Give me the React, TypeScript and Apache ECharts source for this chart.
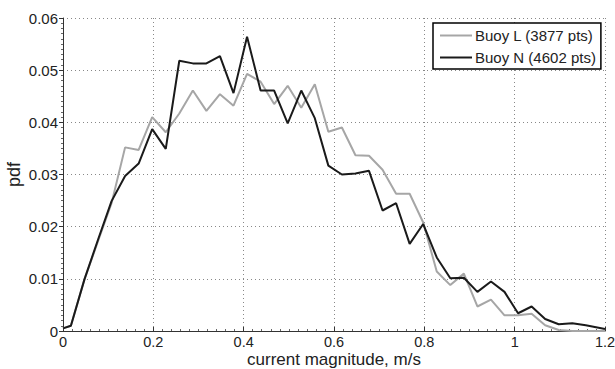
import React, { useEffect, useRef } from "react";
import * as echarts from "echarts";

const xValues = [
  0, 0.0175, 0.0475, 0.0775, 0.1075, 0.1375, 0.1675, 0.1975, 0.2275, 0.2575,
  0.2875, 0.3175, 0.3475, 0.3775, 0.4075, 0.4375, 0.4675, 0.4975, 0.5275,
  0.5575, 0.5875, 0.6175, 0.6475, 0.6775, 0.7075, 0.7375, 0.7675, 0.7975,
  0.8275, 0.8575, 0.8875, 0.9175, 0.9475, 0.9775, 1.0075, 1.0375, 1.0675,
  1.0975, 1.1275, 1.1575, 1.2,
];

const buoyL = [
  0.0005, 0.001, 0.0099, 0.0172, 0.0245, 0.0352, 0.0347, 0.041, 0.0381, 0.0417,
  0.0461, 0.0422, 0.0454, 0.0432, 0.0493, 0.0478, 0.0435, 0.047, 0.0428,
  0.0473, 0.0382, 0.039, 0.0337, 0.0336, 0.0309, 0.0263, 0.0263, 0.0208,
  0.0114, 0.0088, 0.011, 0.0047, 0.006, 0.003, 0.003, 0.0033, 0.0011, 0.0002,
  0, 0, 0,
];

const buoyN = [
  0.0005, 0.001, 0.0099, 0.0175, 0.0249, 0.0297, 0.0321, 0.0387, 0.0349,
  0.0518, 0.0513, 0.0513, 0.0527, 0.0456, 0.0564, 0.0461, 0.0461, 0.0398,
  0.0461, 0.0408, 0.0317, 0.03, 0.0302, 0.0307, 0.0231, 0.0245, 0.0167,
  0.0205, 0.0141, 0.0101, 0.0102, 0.0075, 0.0095, 0.0075, 0.0034, 0.0047,
  0.0023, 0.0013, 0.0015, 0.0011, 0.0004,
];

const seriesNames = ["Buoy L (3877 pts)", "Buoy N (4602 pts)"];
const xTickLabels = ["0", "0.2", "0.4", "0.6", "0.8", "1", "1.2"];
const yTickLabels = ["0", "0.01", "0.02", "0.03", "0.04", "0.05", "0.06"];

const FONT = "'Liberation Sans', Arial, Helvetica, sans-serif";

export default function App() {
  const ref = useRef<HTMLDivElement>(null);
  useEffect(() => {
    if (!ref.current) return;
    const chart = echarts.init(ref.current, null, { renderer: "svg" });
    const toPairs = (ys: number[]) => xValues.map((x, i) => [x, ys[i]]);
    const split = {
      show: true,
      lineStyle: { color: "#888", width: 1, type: [1, 3] as any },
    };
    chart.setOption({
      animation: false,
      backgroundColor: "#fff",
      textStyle: { fontFamily: FONT },
      grid: {
        left: 63,
        right: 10,
        top: 18,
        bottom: 38,
        containLabel: false,
        outerBoundsMode: "none",
      },
      legend: {
        data: seriesNames.map((n) => ({ name: n, icon: "rect" })),
        orient: "vertical",
        left: 433,
        top: 23,
        itemWidth: 32,
        itemHeight: 2,
        itemGap: 7,
        padding: [5, 5, 4, 7],
        borderColor: "#000",
        borderWidth: 1.5,
        backgroundColor: "#fff",
        borderRadius: 0,
        textStyle: { fontFamily: FONT, fontSize: 15, color: "#222", padding: [0, 0, 0, -2] },
      },
      xAxis: {
        type: "value",
        min: 0,
        max: 1.2,
        interval: 0.2,
        name: "current magnitude, m/s",
        nameLocation: "middle",
        nameGap: 21,
        nameMoveOverlap: false,
        nameTextStyle: { fontFamily: FONT, fontSize: 17, lineHeight: 14, color: "#222" },
        axisLine: { show: true, onZero: false, lineStyle: { color: "#333", width: 1 } },
        axisTick: { show: true, inside: true, length: 4, lineStyle: { color: "#333" } },
        minorTick: { show: true, splitNumber: 10, length: 2, lineStyle: { color: "#666" } },
        axisLabel: {
          fontFamily: FONT,
          fontSize: 14.5,
          lineHeight: 14,
          color: "#222",
          margin: 4,
          formatter: (v: number) => xTickLabels[Math.round(v / 0.2)] ?? "",
        },
        splitLine: { ...split, showMinLine: false },
      },
      yAxis: {
        type: "value",
        min: 0,
        max: 0.06,
        interval: 0.01,
        name: "pdf",
        nameLocation: "middle",
        nameGap: 40,
        nameMoveOverlap: false,
        nameTextStyle: { fontFamily: FONT, fontSize: 18, color: "#222" },
        axisLine: { show: true, lineStyle: { color: "#333", width: 1 } },
        axisTick: { show: true, inside: false, length: 4, lineStyle: { color: "#333" } },
        minorTick: { show: true, splitNumber: 10, length: 2, lineStyle: { color: "#666" } },
        axisLabel: {
          fontFamily: FONT,
          fontSize: 15,
          color: "#222",
          margin: 5,
          formatter: (v: number) => yTickLabels[Math.round(v / 0.01)] ?? "",
        },
        splitLine: { ...split, showMinLine: false },
      },
      series: [
        {
          name: seriesNames[0],
          type: "line",
          data: toPairs(buoyL),
          symbol: "none",
          color: "#a6a6a6",
          lineStyle: { color: "#a6a6a6", width: 2 },
          z: 2,
        },
        {
          name: seriesNames[1],
          type: "line",
          data: toPairs(buoyN),
          symbol: "none",
          color: "#1a1a1a",
          lineStyle: { color: "#1a1a1a", width: 2 },
          z: 3,
        },
      ],
    });
    return () => chart.dispose();
  }, []);
  return <div ref={ref} style={{ width: 615, height: 369, position: "absolute", left: 0, top: 0 }} />;
}
